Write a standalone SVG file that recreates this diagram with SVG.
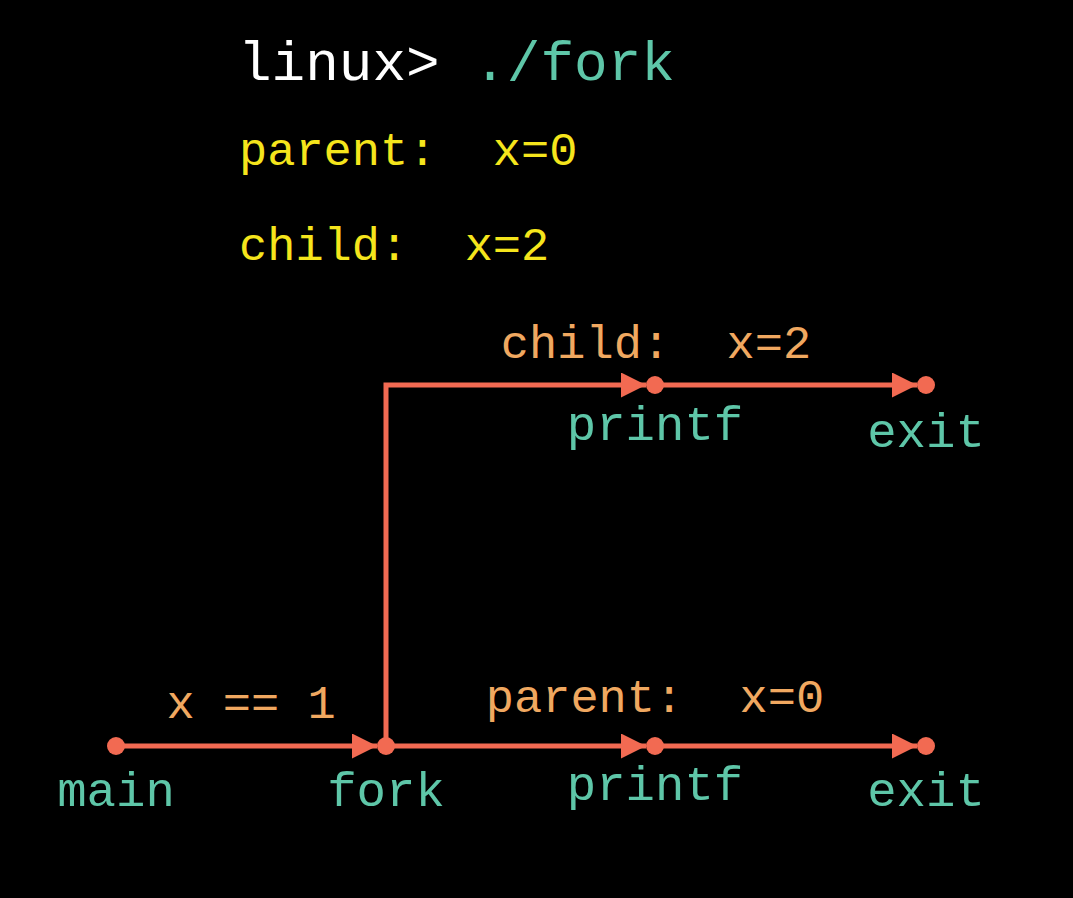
<svg xmlns="http://www.w3.org/2000/svg" width="1073" height="898" viewBox="0 0 1073 898">
<style>
.t{font-family:"Liberation Mono","DejaVu Sans Mono",monospace;font-size:47px;white-space:pre}
.w{fill:#ffffff}
.y{fill:#f5e51c}
.o{fill:#f0a860}
.g{fill:#5ec6a8}
.lbl{font-size:49px}
.ln{stroke:#f26a52;stroke-width:5;fill:none}
.dot{fill:#f26a52}
</style>
<defs>
<marker id="arr" viewBox="0 0 10 10" refX="10" refY="5" markerWidth="5" markerHeight="5" markerUnits="strokeWidth" orient="auto">
<path d="M0,0 L10,5 L0,10 z" fill="#f26a52"/>
</marker>
</defs>
<rect width="1073" height="898" fill="#000000"/>
<g id="console">
<text class="t w" x="238" y="80" style="font-size:56px">linux&gt; <tspan class="g">./fork</tspan></text>
<text class="t y" x="239" y="165" xml:space="preserve">parent:  x=0</text>
<text class="t y" x="239" y="260" xml:space="preserve">child:  x=2</text>
</g>
<g id="connectors">
<path class="ln" d="M116,746 L377,746" marker-end="url(#arr)"/>
<path class="ln" d="M386,746 L646,746" marker-end="url(#arr)"/>
<path class="ln" d="M655,746 L917,746" marker-end="url(#arr)"/>
<path class="ln" d="M386,746 L386,385 L646,385" marker-end="url(#arr)"/>
<path class="ln" d="M655,385 L917,385" marker-end="url(#arr)"/>
<text class="t o" x="251" y="718" text-anchor="middle">x == 1</text>
<text class="t o" x="655" y="712" text-anchor="middle" xml:space="preserve">parent:  x=0</text>
<text class="t o" x="656" y="358" text-anchor="middle" xml:space="preserve">child:  x=2</text>
</g>
<g id="main"><circle class="dot" cx="116" cy="746" r="9"/><text class="t g lbl" x="116" y="806" text-anchor="middle">main</text></g>
<g id="fork"><circle class="dot" cx="386" cy="746" r="9"/><text class="t g lbl" x="386" y="806" text-anchor="middle">fork</text></g>
<g id="printf_parent"><circle class="dot" cx="655" cy="746" r="9"/><text class="t g lbl" x="655" y="800" text-anchor="middle">printf</text></g>
<g id="exit_parent"><circle class="dot" cx="926" cy="746" r="9"/><text class="t g lbl" x="926" y="806" text-anchor="middle">exit</text></g>
<g id="printf_child"><circle class="dot" cx="655" cy="385" r="9"/><text class="t g lbl" x="655" y="440" text-anchor="middle">printf</text></g>
<g id="exit_child"><circle class="dot" cx="926" cy="385" r="9"/><text class="t g lbl" x="926" y="447" text-anchor="middle">exit</text></g>
</svg>
